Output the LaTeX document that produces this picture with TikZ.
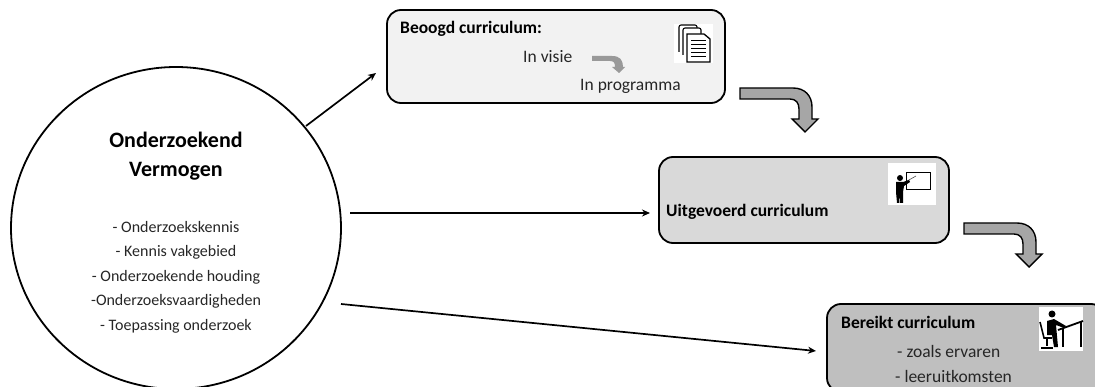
\documentclass[tikz,border=0pt]{standalone}
\usepackage{fontspec}
\setmainfont{Carlito}
\usetikzlibrary{arrows.meta,shapes.geometric}
\definecolor{boxa}{HTML}{F2F2F2}
\definecolor{boxb}{HTML}{D9D9D9}
\definecolor{boxc}{HTML}{BFBFBF}
\definecolor{txt}{HTML}{262626}
\tikzset{
  x=1pt,y=-1pt,
  curbox/.style={draw=black,line width=1.8pt,rounded corners=14pt,inner sep=0pt,minimum height=0pt},
  conn/.style={draw=black,line width=1.7pt,-{Stealth[length=8pt,width=7pt]}},
  lbl/.style={inner sep=0pt,font=\fontsize{17.5}{20}\selectfont,text=txt,anchor=west},
  hd/.style={inner sep=0pt,font=\fontsize{17.5}{20}\selectfont\bfseries,text=black,anchor=west},
  whitebg/.style={fill=white,draw=none},
  bentarrow/.pic={\draw[black,line width=1.4pt,fill=black!35]
    (0,0)--(53,0) .. controls (65,0) and (72,8) .. (72,19) --(72,31)--(78,31)--(65,44)--(52,31)--(59,31)--(59,21)
    .. controls (59,15) and (56,11) .. (50,11) --(0,11)--cycle;}
}
\begin{document}
\begin{tikzpicture}
\useasboundingbox (0,0) rectangle (1095,387);
\begin{scope}
\clip (0,0) rectangle (1095,387);
\node[draw=black,line width=1.8pt,ellipse,minimum width=330pt,minimum height=322pt,inner sep=0pt] (circ) at (176,228) {};
\path[curbox,fill=boxc] (827,392) -- (827,304) -- (1105,304) -- (1105,392) -- cycle;
\end{scope}
\path[curbox,fill=boxa] (387,10) rectangle (725,103);
\path[curbox,fill=boxb] (659,157) rectangle (949,243);
\coordinate (box1) at (376,73);
\coordinate (box2) at (650,213);
\coordinate (box3) at (816,351);
\coordinate (c1) at (306,126);
\coordinate (c2) at (350,213);
\coordinate (c3) at (341,304);
\draw[conn] (c1) -- (box1);
\draw[conn] (c2) -- (box2);
\draw[conn] (c3) -- (box3);
\pic at (740,88) {bentarrow};
\pic at (964,223) {bentarrow};
\node[font=\fontsize{22}{26}\selectfont\bfseries,align=center,inner sep=0pt] (title) at (176,156) {Onderzoekend\\[3pt]Vermogen};
\node[font=\fontsize{16}{24.5}\selectfont,text=txt,align=center,inner sep=0pt] (list) at (176,277) {- Onderzoekskennis\\- Kennis vakgebied\\- Onderzoekende houding\\-Onderzoeksvaardigheden\\- Toepassing onderzoek};
\node[hd] (t1) at (400,29) {Beoogd curriculum:};
\node[lbl] (t1a) at (523,57) {In visie};
\node[lbl] (t1b) at (580,86) {In programma};
\node[hd] (t2) at (666,212) {Uitgevoerd curriculum};
\node[hd] (t3) at (841,322) {Bereikt curriculum};
\node[lbl] (t3a) at (897,351) {- zoals ervaren};
\node[lbl] (t3b) at (895,376) {- leeruitkomsten};
% small arrow
\fill[black!40] (592,56)--(612,56) .. controls (620,56) and (623,60) .. (623,67) --(625,67)--(619,73)--(612,67)--(615,67)
  .. controls (615,63) and (614,61) .. (610,61) --(592,61)--cycle;
% documents icon
\fill[whitebg] (674,24) rectangle (713,63);
\foreach \dx/\dy in {0/0,4/3} {
  \draw[black,line width=1.1pt,fill=white,rounded corners=2pt] (679+\dx,54+\dy-2) -- (679+\dx,25+\dy) -- (697+\dx,25+\dy) -- (697+\dx,40);
}
\draw[black,line width=1.3pt,fill=white] (687,62) -- (687,34) -- (704,34) -- (710,39) -- (710,62) -- cycle;
\foreach \yy in {41,45,49,53,57} \draw[black,line width=1pt] (691,\yy) -- (706,\yy);
% teacher icon
\fill[whitebg] (888,163) rectangle (936,205);
\draw[black,line width=1pt] (906,173) rectangle (930,190);
\draw[black!70,line width=.6pt] (900,185) -- (916,176);
\fill[black] (900,178) circle (3pt);
\fill[black] (896,182) -- (903,182) -- (909,180) -- (910,182) -- (904,186) -- (903,192) -- (903,203) -- (900,203) -- (899.5,194) -- (899,203) -- (897,203) -- (896,192) -- cycle;
% student icon
\fill[whitebg] (1039,307) rectangle (1083,351);
\fill[black] (1052,314) circle (3.5pt);
\draw[black,line width=1.8pt] (1058,330) -- (1083,321);
\draw[black,line width=1.6pt] (1063,329) -- (1063,347) (1081,322) -- (1081,347);
\draw[black,line width=1.6pt] (1040,322) -- (1044,338) -- (1052,338);
\fill[black] (1047,321) -- (1054,319) -- (1066,326) -- (1064,328) -- (1056,325) -- (1058,347) -- (1054,347) -- (1052,335) -- (1047,335) -- cycle;
\draw[black,line width=1.2pt] (1047,339) -- (1047,346) (1041,348) -- (1053,348);
\end{tikzpicture}
\end{document}
